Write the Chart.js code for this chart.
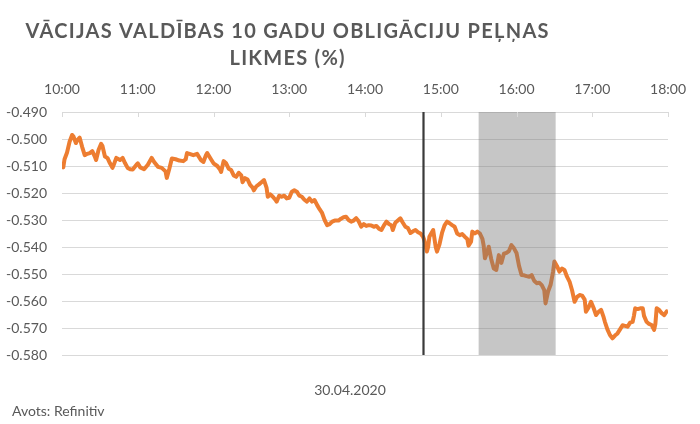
<!DOCTYPE html>
<html>
<head>
<meta charset="utf-8">
<script src="https://cdn.jsdelivr.net/npm/chart.js@4"></script>
<style>
  html, body { margin: 0; padding: 0; background: #fff; }
  #wrap { width: 700px; height: 424px; position: relative; }
</style>
</head>
<body>
<div id="wrap"><canvas id="c" width="700" height="424"></canvas></div>
<script>
// ---- Data ----
const titleLines = ['VĀCIJAS VALDĪBAS 10 GADU OBLIGĀCIJU PEĻŅAS', 'LIKMES (%)'];
const dateLabel = '30.04.2020';
const sourceLabel = 'Avots: Refinitiv';
const xTickMinutes = [0, 60, 120, 180, 240, 300, 360, 420, 480];
const xTickLabels = ['10:00', '11:00', '12:00', '13:00', '14:00', '15:00', '16:00', '17:00', '18:00'];
const yTickValues = [-0.49, -0.50, -0.51, -0.52, -0.53, -0.54, -0.55, -0.56, -0.57, -0.58];
// minutes after 10:00
const minutes = [
  0,1,2,4,6,8,9,11,12,14,16,18,20,22,24,26,27,29,31,32,34,36,38,40,41,43,46,48,50,52,54,56,59,60,62,65,68,71,73,76,79,82,83,85,87,90,93,96,98,99,
  101,104,107,110,112,114,115,118,120,123,125,126,128,130,132,134,136,138,140,142,143,145,147,149,151,152,154,156,158,160,162,163,165,167,169,170,172,174,176,178,180,182,184,186,188,190,192,194,196,198,
  200,202,204,206,208,210,212,214,216,219,221,223,225,227,229,231,233,235,237,239,241,243,245,247,249,251,253,255,257,259,261,262,264,266,268,270,272,274,276,278,280,282,284,286,287,289,290,291,293,294,
  296,297,299,301,303,305,307,309,311,313,315,317,319,321,322,324,325,327,329,331,333,334,335,337,338,340,342,344,346,348,350,352,354,356,358,360,362,364,366,368,370,372,374,376,378,380,382,383,385,387,
  389,390,392,394,396,398,400,402,404,406,408,410,412,414,415,417,419,421,423,425,427,429,430,432,434,436,438,440,442,444,446,448,450,452,453,454,456,458,460,461,463,465,467,469,470,471,473,475,477,479,480
];
const yields = [
  -0.5085,-0.5105,-0.5075,-0.5050,-0.5010,-0.4985,-0.4990,-0.5015,-0.5005,-0.4995,-0.5030,-0.5060,-0.5055,-0.5052,-0.5045,-0.5065,-0.5078,-0.5040,-0.5018,-0.5025,-0.5065,-0.5070,-0.5090,-0.5107,-0.5095,-0.5070,-0.5078,-0.5070,-0.5090,-0.5107,-0.5112,-0.5113,-0.5095,-0.5090,-0.5105,-0.5112,-0.5095,-0.5070,-0.5085,-0.5103,-0.5107,-0.5120,-0.5144,-0.5110,-0.5072,-0.5075,-0.5080,-0.5082,-0.5075,-0.5052,
  -0.5055,-0.5060,-0.5055,-0.5078,-0.5085,-0.5060,-0.5052,-0.5075,-0.5090,-0.5100,-0.5112,-0.5122,-0.5082,-0.5090,-0.5110,-0.5115,-0.5135,-0.5140,-0.5125,-0.5135,-0.5160,-0.5145,-0.5150,-0.5170,-0.5180,-0.5190,-0.5175,-0.5168,-0.5160,-0.5152,-0.5180,-0.5214,-0.5205,-0.5214,-0.5225,-0.5232,-0.5210,-0.5214,-0.5210,-0.5220,-0.5218,-0.5195,-0.5190,-0.5195,-0.5210,-0.5214,-0.5225,-0.5232,-0.5220,-0.5232,
  -0.5226,-0.5244,-0.5260,-0.5274,-0.5300,-0.5319,-0.5315,-0.5306,-0.5302,-0.5302,-0.5295,-0.5290,-0.5288,-0.5300,-0.5306,-0.5302,-0.5293,-0.5305,-0.5325,-0.5315,-0.5322,-0.5319,-0.5320,-0.5325,-0.5322,-0.5332,-0.5337,-0.5320,-0.5306,-0.5315,-0.5320,-0.5337,-0.5310,-0.5302,-0.5294,-0.5310,-0.5325,-0.5330,-0.5348,-0.5342,-0.5337,-0.5345,-0.5350,-0.5362,-0.5375,-0.5417,-0.5400,-0.5362,-0.5345,-0.5337,
  -0.5400,-0.5417,-0.5390,-0.5348,-0.5320,-0.5306,-0.5312,-0.5319,-0.5325,-0.5350,-0.5356,-0.5352,-0.5362,-0.5370,-0.5395,-0.5380,-0.5343,-0.5350,-0.5343,-0.5350,-0.5370,-0.5395,-0.5442,-0.5415,-0.5399,-0.5445,-0.5480,-0.5485,-0.5430,-0.5459,-0.5425,-0.5422,-0.5415,-0.5393,-0.5405,-0.5422,-0.5470,-0.5504,-0.5505,-0.5508,-0.5510,-0.5504,-0.5525,-0.5534,-0.5532,-0.5541,-0.5560,-0.5609,-0.5565,-0.5540,
  -0.5490,-0.5454,-0.5470,-0.5491,-0.5480,-0.5485,-0.5510,-0.5528,-0.5560,-0.5603,-0.5585,-0.5578,-0.5580,-0.5595,-0.5640,-0.5625,-0.5603,-0.5625,-0.5652,-0.5640,-0.5633,-0.5660,-0.5677,-0.5705,-0.5726,-0.5738,-0.5728,-0.5720,-0.5705,-0.5690,-0.5692,-0.5695,-0.5680,-0.5677,-0.5655,-0.5627,-0.5630,-0.5627,-0.5627,-0.5655,-0.5677,-0.5685,-0.5689,-0.5707,-0.5685,-0.5627,-0.5633,-0.5645,-0.5652,-0.5638,-0.5636
];
const markerMinute = 286;          // vertical line (approx. 14:46)
const bandStartMinute = 330;       // shaded window start (~15:30)
const bandEndMinute = 391;         // shaded window end (~16:30)

// ---- Styles ----
const TEXT = '#595959';
const GRID = '#d9d9d9';
const FONT = 'Lato, "Open Sans", sans-serif';

const points = minutes.map((m, i) => ({ x: m, y: yields[i] }));

const overlayPlugin = {
  id: 'overlay',
  afterDatasetsDraw(chart) {
    const { ctx, chartArea: a, scales: { x } } = chart;
    ctx.save();
    const b0 = x.getPixelForValue(bandStartMinute);
    const b1 = x.getPixelForValue(bandEndMinute);
    ctx.fillStyle = 'rgba(120,120,120,0.42)';
    ctx.fillRect(b0, a.top, b1 - b0, a.bottom - a.top);
    const mx = Math.round(x.getPixelForValue(markerMinute)) + 0.5;
    ctx.strokeStyle = '#3a3a3a';
    ctx.lineWidth = 2.2;
    ctx.beginPath();
    ctx.moveTo(mx, a.top);
    ctx.lineTo(mx, a.bottom);
    ctx.stroke();
    ctx.restore();
  },
  afterDraw(chart) {
    const { ctx, chartArea: a, scales: { x } } = chart;
    ctx.save();
    ctx.strokeStyle = GRID;
    ctx.lineWidth = 1;
    xTickMinutes.forEach(m => {
      const px = Math.round(x.getPixelForValue(m)) + 0.5;
      ctx.beginPath();
      ctx.moveTo(px, a.top);
      ctx.lineTo(px, a.top + 5);
      ctx.stroke();
    });
    ctx.fillStyle = TEXT;
    ctx.textAlign = 'center';
    ctx.textBaseline = 'alphabetic';
    ctx.font = 'bold 20px ' + FONT;
    const w0 = ctx.measureText(titleLines[0]).width;
    const sp = Math.max(0, (523 - w0) / (titleLines[0].length - 1));
    ctx.letterSpacing = sp.toFixed(2) + 'px';
    ctx.fillText(titleLines[0], 287 + sp / 2, 38);
    ctx.fillText(titleLines[1], 287 + sp / 2, 65);
    ctx.letterSpacing = '0px';
    ctx.font = '14px ' + FONT;
    ctx.textAlign = 'center';
    ctx.fillText(dateLabel, 350, 395);
    ctx.textAlign = 'left';
    ctx.fillText(sourceLabel, 12, 416);
    ctx.restore();
  }
};

new Chart(document.getElementById('c'), {
  type: 'line',
  data: {
    datasets: [{
      data: points,
      borderColor: '#ED7D31',
      borderWidth: 4,
      borderJoinStyle: 'round',
      pointRadius: 0,
      tension: 0,
      fill: false
    }]
  },
  options: {
    responsive: false,
    animation: false,
    devicePixelRatio: 1,
    layout: { padding: { top: 0, right: 29, bottom: 69, left: 0 } },
    plugins: { legend: { display: false }, tooltip: { enabled: false }, title: { display: false } },
    scales: {
      x: {
        type: 'linear',
        position: 'top',
        min: 0,
        max: 480,
        afterBuildTicks(s) { s.ticks = xTickMinutes.map(v => ({ value: v })); },
        afterFit(s) { s.height = 112; },
        ticks: {
          callback: (v) => xTickLabels[xTickMinutes.indexOf(v)],
          color: TEXT,
          font: { family: FONT, size: 14 },
          padding: 14,
          maxRotation: 0,
          autoSkip: false
        },
        grid: { display: false, drawTicks: false },
        border: { display: true, color: GRID, width: 1 }
      },
      y: {
        type: 'linear',
        min: -0.58,
        max: -0.49,
        afterBuildTicks(s) { s.ticks = yTickValues.map(v => ({ value: v })); },
        afterFit(s) { s.width = 62; },
        ticks: {
          callback: (v) => v.toFixed(3),
          color: TEXT,
          font: { family: FONT, size: 14 },
          padding: 15,
          autoSkip: false
        },
        grid: { color: GRID, lineWidth: 1, drawTicks: false },
        border: { display: false }
      }
    }
  },
  plugins: [overlayPlugin]
});
</script>
</body>
</html>
